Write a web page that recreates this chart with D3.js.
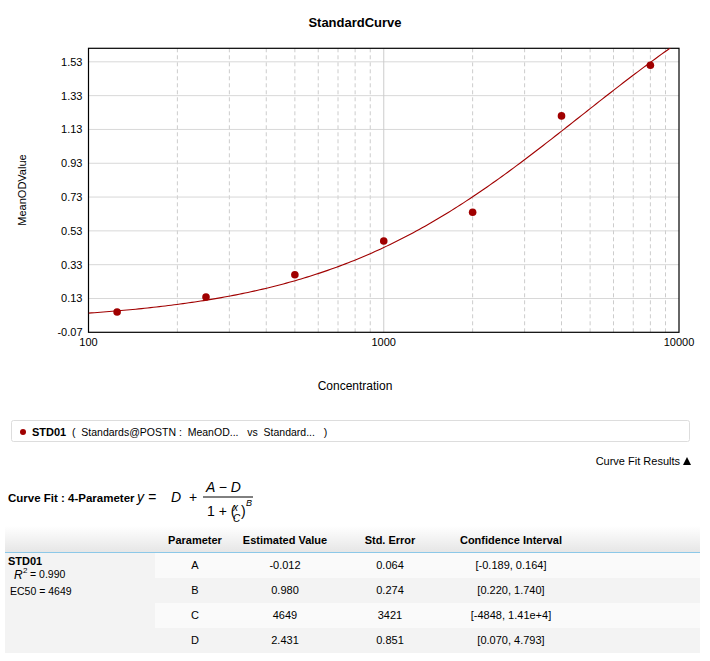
<!DOCTYPE html><html><head><meta charset="utf-8"><script src="https://cdn.jsdelivr.net/npm/d3@7"></script>
<style>body{margin:0;background:#fff}text{font-family:"Liberation Sans",Arial,sans-serif}</style></head><body><svg id="c" width="710" height="661"></svg>
<script>
const conc=[125,250,500,1000,2000,4000,8000];
const od=[0.05,0.139,0.27,0.47,0.64,1.21,1.51];
const yTicks=[-0.07,0.13,0.33,0.53,0.73,0.93,1.13,1.33,1.53];
const xTicks=[100,1000,10000];
const fitParams={A:-0.012,B:0.980,C:4649,D:2.431};
const tableRows=[["A","-0.012","0.064","[-0.189, 0.164]"],["B","0.980","0.274","[0.220, 1.740]"],["C","4649","3421","[-4848, 1.41e+4]"],["D","2.431","0.851","[0.070, 4.793]"]];
const headers=["Parameter","Estimated Value","Std. Error","Confidence Interval"];
const svg=d3.select("#c");
const L=88.5,R=679,T=48.3,B=332.3;
const x=d3.scaleLog().domain([100,10000]).range([L,R]);
const y=d3.scaleLinear().domain([-0.07,1.61]).range([B,T]);
svg.append("text").attr("x",355).attr("y",27).attr("text-anchor","middle").attr("font-weight","bold").attr("font-size",13).text("StandardCurve");
const minor=[];[100,1000].forEach(d=>{for(let k=2;k<=9;k++)minor.push(d*k)});
svg.selectAll(".mg").data(minor).join("line").attr("x1",d=>x(d)).attr("x2",d=>x(d)).attr("y1",T).attr("y2",B).attr("stroke","#ccc").attr("stroke-dasharray","4,3");
svg.selectAll(".hg").data(yTicks.slice(1)).join("line").attr("x1",L).attr("x2",R).attr("y1",d=>y(d)).attr("y2",d=>y(d)).attr("stroke","#d8d8d8");
svg.append("line").attr("x1",x(1000)).attr("x2",x(1000)).attr("y1",T).attr("y2",B).attr("stroke","#ccc");
svg.append("rect").attr("x",L).attr("y",T).attr("width",R-L).attr("height",B-T).attr("fill","none").attr("stroke","#000").attr("stroke-width",1.2);
svg.selectAll(".yt").data(yTicks).join("text").attr("x",L-6).attr("y",d=>y(d)+4).attr("text-anchor","end").attr("font-size",11).text(d=>d.toFixed(2));
svg.selectAll(".xt").data(xTicks).join("text").attr("x",d=>x(d)).attr("y",B+14).attr("text-anchor","middle").attr("font-size",11).text(d=>d);
svg.append("text").attr("transform","translate(26,190) rotate(-90)").attr("text-anchor","middle").attr("font-size",11).text("MeanODValue");
svg.append("text").attr("x",355).attr("y",390).attr("text-anchor","middle").attr("font-size",12).text("Concentration");
const f=c=>fitParams.D+(fitParams.A-fitParams.D)/(1+Math.pow(c/fitParams.C,fitParams.B));
const xs=d3.range(0,201).map(i=>100*Math.pow(100,i/200));
const clip=svg.append("clipPath").attr("id","cp").append("rect").attr("x",L).attr("y",T).attr("width",R-L).attr("height",B-T);
svg.append("path").attr("clip-path","url(#cp)").attr("d",d3.line().x(d=>x(d)).y(d=>y(f(d)))(xs)).attr("fill","none").attr("stroke","#a00000").attr("stroke-width",1.1);
svg.selectAll(".pt").data(conc).join("circle").attr("cx",d=>x(d)).attr("cy",(d,i)=>y(od[i])).attr("r",3.8).attr("fill","#a00000");
// legend
svg.append("rect").attr("x",11.5).attr("y",420.5).attr("width",678).attr("height",21).attr("fill","#fff").attr("stroke","#ddd").attr("rx",2);
svg.append("circle").attr("cx",23).attr("cy",432).attr("r",3).attr("fill","#a00000");
svg.append("text").attr("x",32).attr("y",436).attr("font-size",11).attr("font-weight","bold").text("STD01");
svg.append("text").attr("x",72).attr("y",436).attr("font-size",10.5).attr("xml:space","preserve").text("(  Standards@POSTN :  MeanOD...   vs  Standard...   )");
svg.append("text").attr("x",680).attr("y",465).attr("text-anchor","end").attr("font-size",11).text("Curve Fit Results");
svg.append("path").attr("d","M683,465 L691,465 L687,457 Z").attr("fill","#000");
svg.append("text").attr("x",8).attr("y",502).attr("font-size",11.5).attr("font-weight","bold").text("Curve Fit : 4-Parameter");
const eq=svg.append("g").attr("font-family","Liberation Serif,serif").attr("font-style","italic").attr("font-size",14);
eq.append("text").attr("x",137).attr("y",502).text("y =");
eq.append("text").attr("x",171).attr("y",502).text("D");
eq.append("text").attr("x",189).attr("y",502).attr("font-style","normal").text("+");
eq.append("text").attr("x",206).attr("y",492).text("A − D");
eq.append("line").attr("x1",203).attr("x2",253).attr("y1",497).attr("y2",497).attr("stroke","#000");
eq.append("text").attr("x",207).attr("y",516).attr("font-style","normal").text("1 + (");
eq.append("text").attr("x",233).attr("y",511).attr("font-size",10).text("x");
eq.append("text").attr("x",233).attr("y",522).attr("font-size",10).text("C");
eq.append("text").attr("x",241).attr("y",516).attr("font-style","normal").text(")");
eq.append("text").attr("x",246).attr("y",506).attr("font-size",9).text("B");
// table
const grad=svg.append("defs").append("linearGradient").attr("id","hg").attr("x1",0).attr("x2",0).attr("y1",0).attr("y2",1);
grad.append("stop").attr("offset",0).attr("stop-color","#fff");grad.append("stop").attr("offset",1).attr("stop-color","#e6e6e6");
svg.append("rect").attr("x",5).attr("y",526).attr("width",695).attr("height",26).attr("fill","url(#hg)");
svg.append("line").attr("x1",5).attr("x2",700).attr("y1",552.5).attr("y2",552.5).attr("stroke","#8cc8e8");
svg.append("rect").attr("x",5).attr("y",553).attr("width",150).attr("height",100).attr("fill","#f3f3f3");
const cx=[195,285,390,511];
headers.forEach((h,i)=>svg.append("text").attr("x",cx[i]).attr("y",544).attr("text-anchor","middle").attr("font-size",11).attr("font-weight","bold").text(h));
tableRows.forEach((r,j)=>{const ry=553+j*25;
 svg.append("rect").attr("x",155).attr("y",ry).attr("width",545).attr("height",25).attr("fill",j%2?"#f3f3f3":"#fafafa");
 r.forEach((v,i)=>svg.append("text").attr("x",cx[i]).attr("y",ry+16).attr("text-anchor","middle").attr("font-size",11).text(v));});
svg.append("text").attr("x",8).attr("y",565).attr("font-size",11).attr("font-weight","bold").text("STD01");
svg.append("text").attr("x",14).attr("y",579).attr("font-size",12).attr("font-style","italic").attr("font-family","Liberation Serif,serif").text("R");
svg.append("text").attr("x",23).attr("y",573).attr("font-size",8).text("2");
svg.append("text").attr("x",30).attr("y",578).attr("font-size",10.5).text("= 0.990");
svg.append("text").attr("x",10).attr("y",595).attr("font-size",10.5).text("EC50 = 4649");
</script></body></html>
